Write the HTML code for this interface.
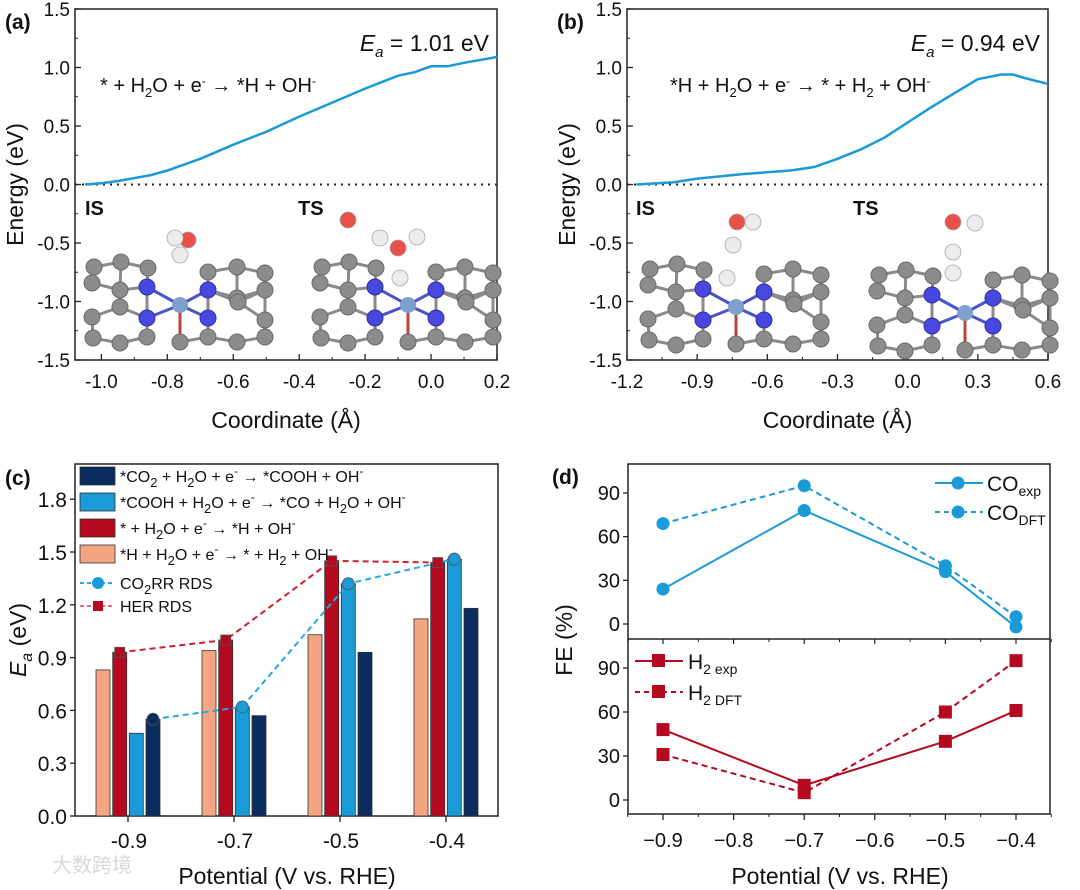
<!DOCTYPE html>
<html><head><meta charset="utf-8">
<style>
html,body{margin:0;padding:0;background:#fff;}
svg{display:block;font-family:"Liberation Sans",Arial,sans-serif;}
</style></head>
<body>
<svg id="fig" width="1080" height="890" viewBox="0 0 1080 890">
</svg>
<script>
// ---- data ----
const aX = [-1.05,-1.0,-0.95,-0.85,-0.8,-0.7,-0.6,-0.5,-0.4,-0.3,-0.2,-0.1,-0.05,0,0.05,0.1,0.2];
const aE = [0,0.01,0.03,0.08,0.12,0.22,0.34,0.45,0.58,0.70,0.82,0.93,0.96,1.01,1.01,1.04,1.09];
const bX = [-1.16,-1.0,-0.9,-0.7,-0.5,-0.4,-0.3,-0.2,-0.1,0,0.1,0.2,0.3,0.4,0.45,0.5,0.6];
const bE = [0,0.02,0.05,0.09,0.12,0.15,0.22,0.30,0.40,0.53,0.66,0.78,0.90,0.94,0.94,0.91,0.86];
const aXTicks = [-1.0,-0.8,-0.6,-0.4,-0.2,0.0,0.2];
const bXTicks = [-1.2,-0.9,-0.6,-0.3,0.0,0.3,0.6];
const eYTicks = [-1.5,-1.0,-0.5,0.0,0.5,1.0,1.5];

const cCats = ["-0.9","-0.7","-0.5","-0.4"];
const cPeach = [0.83,0.94,1.03,1.12];
const cRed = [0.93,1.00,1.45,1.44];
const cBlue = [0.47,0.62,1.32,1.46];
const cNavy = [0.55,0.57,0.93,1.18];
const cCO2RR = [0.55,0.62,1.32,1.46];
const cCO2RRSeries = [3,2,2,2];
const cHER = [0.93,1.00,1.45,1.44];
const cYTicks = [0.0,0.3,0.6,0.9,1.2,1.5,1.8];

const dX = [-0.9,-0.7,-0.5,-0.4];
const dCOexp = [24,78,36,-2];
const dCOdft = [69,95,40,5];
const dH2exp = [48,10,40,61];
const dH2dft = [31,5,60,95];
const dXTicks = [-0.9,-0.8,-0.7,-0.6,-0.5,-0.4];
const dYTicks = [0,30,60,90];

const NS="http://www.w3.org/2000/svg";
const svg=document.getElementById('fig');
function mk(tag,attrs,parent){const e=document.createElementNS(NS,tag);for(const k in attrs)e.setAttribute(k,attrs[k]);(parent||svg).appendChild(e);return e;}
function txt(x,y,s,size,anchor,parent,extra){const t=mk('text',Object.assign({x:x,y:y,'font-size':size,'text-anchor':anchor||'middle',fill:'#111'},extra||{}),parent);t.innerHTML=s;return t;}

function fmt1(v){return v.toFixed(1);}

// ---------- energy panels ----------
function energyPanel(id,L,R,T,B,xmin,xmax,xs,es,xticks,label,eaText,rxn,rxnX){
  const g=mk('g',{});
  
  
  const sx=v=>L+(v-xmin)/(xmax-xmin)*(R-L);
  const sy=v=>B-(v+1.5)/3*(B-T);
  mk('rect',{x:L,y:T,width:R-L,height:B-T,fill:'none',stroke:'#222','stroke-width':1.5},g);
  eYTicks.forEach(v=>{const y=sy(v);mk('line',{x1:L,x2:L+6,y1:y,y2:y,stroke:'#222','stroke-width':1.3},g);
    const t=txt(L-5,y+7,fmt1(v),19,'end',g);});
  for(let v=-1.25;v<1.5;v+=0.5){const y=sy(v);mk('line',{x1:L,x2:L+3,y1:y,y2:y,stroke:'#222','stroke-width':1},g);}
  xticks.forEach(v=>{const x=sx(v);mk('line',{x1:x,x2:x,y1:B,y2:B-6,stroke:'#222','stroke-width':1.3},g);
    const t=txt(x,B+28,fmt1(v),19,'middle',g);});
  const step=(xticks[1]-xticks[0])/2;
  for(let v=xticks[0]+step;v<xmax;v+=2*step){const x=sx(v);mk('line',{x1:x,x2:x,y1:B,y2:B-3,stroke:'#222','stroke-width':1},g);}
  const z=mk('line',{x1:L,x2:R,y1:sy(0),y2:sy(0),stroke:'#222','stroke-width':2,'stroke-dasharray':'2,5'},g);
  
  const d=xs.map((x,i)=>(i?'L':'M')+sx(x).toFixed(1)+','+sy(es[i]).toFixed(1)).join(' ');
  const p=mk('path',{d:d,fill:'none',stroke:'#1a9ad6','stroke-width':2.5},g);
  
  const pl=txt(L-70,T+20,label,21,'start',g,{'font-weight':'bold'});
  
  const ea=txt(R-8,T+42,'<tspan font-style="italic">E</tspan><tspan font-size="15" dy="6" font-style="italic">a</tspan><tspan dy="-6"> = '+eaText+' eV</tspan>',23,'end',g);
  
  const rx=txt(rxnX,T+83,rxn,20,'start',g);
  
  const xt=txt((L+R)/2,B+68,'Coordinate (Å)',23,'middle',g);
  
  const yt=txt(0,0,'Energy (eV)',23,'middle',g,{transform:'translate('+(L-52)+','+((T+B)/2)+') rotate(-90)'});
  
  return g;
}
const sub=(s)=>'<tspan font-size="13" dy="5">'+s+'</tspan><tspan dy="-5">';
const sup=(s)=>'<tspan font-size="12" dy="-7">'+s+'</tspan><tspan dy="7">';
const ga=energyPanel('a',75,497,9,360,-1.08,0.2,aX,aE,aXTicks,'(a)','1.01',
  '* + H'+sub('2')+'O + e'+sup('-')+' → *H + OH'+sup('-')+'</tspan></tspan></tspan></tspan>',100);
const gb=energyPanel('b',627,1048,9,360,-1.2,0.6,bX,bE,bXTicks,'(b)','0.94',
  '*H + H'+sub('2')+'O + e'+sup('-')+'  → * + H'+sub('2')+' + OH'+sup('-')+'</tspan></tspan></tspan></tspan></tspan>',670);

const greyAtoms=[[29,27],[56,22],[83,28],[143,32],[172,27],[200,33],[27,43],[55,50],[172,58],[200,50],[27,77],[55,67],[173,62],[200,80],[28,98],[55,103],[82,97],[115,102],[143,97],[172,102],[200,97]];
const blueAtoms=[[82,47],[143,50],[82,78],[143,78]];
function slab(ox,oy,name,extras){
  const g=mk('g',{});
  
  const all=greyAtoms.concat(blueAtoms);
  for(let i=0;i<all.length;i++)for(let j=i+1;j<all.length;j++){
    const dx=all[i][0]-all[j][0],dy=all[i][1]-all[j][1];
    if(Math.hypot(dx,dy)<33)mk('line',{x1:ox+all[i][0],y1:oy+all[i][1],x2:ox+all[j][0],y2:oy+all[j][1],stroke:'#8a8a8a','stroke-width':3},g);
  }
  blueAtoms.forEach(a=>mk('line',{x1:ox+115,y1:oy+65,x2:ox+a[0],y2:oy+a[1],stroke:'#4a55c8','stroke-width':3},g));
  mk('line',{x1:ox+115,y1:oy+65,x2:ox+115,y2:oy+102,stroke:'#c04040','stroke-width':3},g);
  greyAtoms.forEach(a=>mk('circle',{cx:ox+a[0],cy:oy+a[1],r:8,fill:'#8c8c8c',stroke:'#6a6a6a','stroke-width':1},g));
  blueAtoms.forEach(a=>mk('circle',{cx:ox+a[0],cy:oy+a[1],r:8,fill:'#4848e0',stroke:'#3030a0','stroke-width':1},g));
  mk('circle',{cx:ox+115,cy:oy+65,r:8,fill:'#7fa0cc'},g);
  extras.forEach(e=>mk('circle',{cx:e[0],cy:e[1],r:8,fill:e[2]==='r'?'#e8504a':'#ececec',stroke:'#aaa','stroke-width':0.8},g));
  return g;
}
slab(65,240,'is-structure-a',[[188,240,'r'],[175,238,'w'],[180,255,'w']]);
slab(293,240,'ts-structure-a',[[348,220,'r'],[380,238,'w'],[417,237,'w'],[398,248,'r'],[400,278,'w']]);
slab(621,242,'is-structure-b',[[737,222,'r'],[753,222,'w'],[733,245,'w'],[727,278,'w']]);
slab(850,248,'ts-structure-b',[[953,222,'r'],[975,223,'w'],[953,252,'w'],[953,273,'w']]);
[[85,215,'IS'],[298,215,'TS'],[636,215,'IS'],[853,215,'TS']].forEach(s=>{
  const t=txt(s[0],s[1],s[2],20,'start',null,{'font-weight':'bold'});
  });

// ---------- panel c ----------
(function(){
  const L=75,R=498,T=464,B=816,ymax=2.0;
  const g=mk('g',{});
  
  const sy=v=>B-v/ymax*(B-T);
  const cx=i=>128+i*106;
  mk('rect',{x:L,y:T,width:R-L,height:B-T,fill:'none',stroke:'#222','stroke-width':1.5},g);
  cYTicks.forEach(v=>{const y=sy(v);mk('line',{x1:L,x2:L-5,y1:y,y2:y,stroke:'#222','stroke-width':1.3},g);
    const t=txt(L-8,y+8,fmt1(v),21,'end',g);});
  cCats.forEach((c,i)=>{mk('line',{x1:cx(i),x2:cx(i),y1:B,y2:B+6,stroke:'#222','stroke-width':1.3},g);
    const t=txt(cx(i)+1,B+32,c,21,'middle',g);});
  const series=[[cPeach,'#f4a582','bar-h-desorption'],[cRed,'#b5091f','bar-h-adsorption'],[cBlue,'#1a9ad6','bar-cooh-to-co'],[cNavy,'#0a2c5e','bar-co2-to-cooh']];
  const offs=[-25,-8.3,8.3,25];
  series.forEach((s,si)=>s[0].forEach((v,i)=>{
    const r=mk('rect',{x:cx(i)+offs[si]-7,y:sy(v),width:14,height:B-sy(v),fill:s[1],stroke:'#333','stroke-width':0.8},g);
    }));
  const herPts=cHER.map((v,i)=>[cx(i)+offs[1],sy(v)]);
  const coPts=cCO2RR.map((v,i)=>[cx(i)+offs[cCO2RRSeries[i]],sy(v)]);
  const hl=mk('polyline',{points:herPts.map(p=>p.join(',')).join(' '),fill:'none',stroke:'#d0202a','stroke-width':2,'stroke-dasharray':'6,4'},g);
  
  const cl=mk('polyline',{points:coPts.map(p=>p.join(',')).join(' '),fill:'none',stroke:'#28a8e0','stroke-width':2,'stroke-dasharray':'6,4'},g);
  
  herPts.forEach(p=>{const m=mk('rect',{x:p[0]-5,y:p[1]-5,width:10,height:10,fill:'#b5091f',stroke:'#555','stroke-width':0.8},g);
    });
  coPts.forEach((p,i)=>{const m=mk('circle',{cx:p[0],cy:p[1],r:6,fill:i===0?'#0a2c5e':'#1a9ad6',stroke:'#555','stroke-width':0.8},g);
    });
  const leg=[['#0a2c5e','*CO'+sub('2')+' + H'+sub('2')+'O + e'+sup('-')+'  → *COOH + OH'+sup('-')+'</tspan></tspan></tspan></tspan>'],
    ['#1a9ad6','*COOH + H'+sub('2')+'O + e'+sup('-')+' → *CO + H'+sub('2')+'O + OH'+sup('-')+'</tspan></tspan></tspan></tspan>'],
    ['#b5091f','* + H'+sub('2')+'O + e'+sup('-')+' → *H + OH'+sup('-')+'</tspan></tspan></tspan>'],
    ['#f4a582','*H + H'+sub('2')+'O + e'+sup('-')+' → * + H'+sub('2')+' + OH'+sup('-')+'</tspan></tspan></tspan></tspan>']];
  leg.forEach((l,i)=>{const y=467+i*26;
    const b=mk('rect',{x:80,y:y,width:35,height:18,fill:l[0],stroke:'#333','stroke-width':0.8},g);
    
    const t=txt(120,y+15,l[1],16,'start',g);});
  mk('line',{x1:80,x2:115,y1:583,y2:583,stroke:'#28a8e0','stroke-width':2,'stroke-dasharray':'4,3'},g);
  mk('circle',{cx:98,cy:583,r:6,fill:'#1a9ad6'},g);
  let t=txt(120,589,'CO'+sub('2')+'RR RDS</tspan>',16,'start',g);
  mk('line',{x1:80,x2:115,y1:606,y2:606,stroke:'#e07080','stroke-width':2,'stroke-dasharray':'4,3'},g);
  mk('rect',{x:93,y:601,width:10,height:10,fill:'#b5091f'},g);
  t=txt(120,612,'HER RDS',16,'start',g);
  t=txt(5,485,'(c)',21,'start',g,{'font-weight':'bold'});
  t=txt(287,884,'Potential (V vs. RHE)',23,'middle',g);
  t=txt(0,0,'<tspan font-style="italic">E</tspan><tspan font-size="16" dy="6" font-style="italic">a</tspan><tspan dy="-6"> (eV)</tspan>',23,'middle',g,{transform:'translate(26,640) rotate(-90)'});
  
  t=txt(52,872,'大数跨境',20,'start',g,{fill:'#d8d8d8','font-family':'"Liberation Sans","Noto Sans CJK SC",sans-serif'});
  
})();

// ---------- panel d ----------
(function(){
  const L=628,R=1050,T1=464,M=639,B=814;
  const g=mk('g',{});
  
  const sx=v=>663+(v+0.9)/0.5*(1016-663);
  const syT=v=>624-v/90*(624-493);
  const syB=v=>800-v/90*(800-668);
  mk('rect',{x:L,y:T1,width:R-L,height:B-T1,fill:'none',stroke:'#222','stroke-width':1.5},g);
  mk('line',{x1:L,x2:R,y1:M,y2:M,stroke:'#222','stroke-width':1.5},g);
  dYTicks.forEach(v=>{[syT(v),syB(v)].forEach(y=>{mk('line',{x1:L,x2:L-5,y1:y,y2:y,stroke:'#222','stroke-width':1.3},g);
    const t=txt(L-8,y+7,String(v),20,'end',g);});});
  dXTicks.forEach(v=>{const x=sx(v);mk('line',{x1:x,x2:x,y1:B,y2:B+6,stroke:'#222','stroke-width':1.3},g);
    mk('line',{x1:x,x2:x,y1:M,y2:M+5,stroke:'#222','stroke-width':1.2},g);
    const t=txt(x,B+33,'−'+Math.abs(v).toFixed(1),20,'middle',g);});
  for(let v=-0.95;v<-0.35;v+=0.1){const x=sx(v);mk('line',{x1:x,x2:x,y1:B,y2:B+3,stroke:'#222','stroke-width':1},g);mk('line',{x1:x,x2:x,y1:M,y2:M+3,stroke:'#222','stroke-width':1},g);}
  function series(vals,sy,color,dash,marker,name){
    const pts=vals.map((v,i)=>[sx(dX[i]),sy(v)]);
    const l=mk('polyline',{points:pts.map(p=>p.join(',')).join(' '),fill:'none',stroke:color,'stroke-width':2,'stroke-dasharray':dash},g);
    
    pts.forEach(p=>{let m;
      if(marker==='c')m=mk('circle',{cx:p[0],cy:p[1],r:6.5,fill:color},g);
      else m=mk('rect',{x:p[0]-6.5,y:p[1]-6.5,width:13,height:13,fill:color},g);
      });
  }
  series(dCOdft,syT,'#1a9ad6','6,4','c','co-dft');
  series(dCOexp,syT,'#1a9ad6','','c','co-exp');
  series(dH2dft,syB,'#b5091f','6,4','s','h2-dft');
  series(dH2exp,syB,'#b5091f','','s','h2-exp');
  mk('line',{x1:935,x2:983,y1:483,y2:483,stroke:'#1a9ad6','stroke-width':2},g);mk('circle',{cx:958,cy:483,r:6.5,fill:'#1a9ad6'},g);
  let t=txt(987,491,'CO<tspan font-size="14" dy="5">exp</tspan>',21,'start',g);
  mk('line',{x1:935,x2:983,y1:512,y2:512,stroke:'#1a9ad6','stroke-width':2,'stroke-dasharray':'5,4'},g);mk('circle',{cx:958,cy:512,r:6.5,fill:'#1a9ad6'},g);
  t=txt(987,520,'CO<tspan font-size="14" dy="5">DFT</tspan>',21,'start',g);
  mk('line',{x1:635,x2:683,y1:661,y2:661,stroke:'#b5091f','stroke-width':2},g);mk('rect',{x:652,y:654,width:13,height:13,fill:'#b5091f'},g);
  t=txt(688,669,'H<tspan font-size="14" dy="5">2 exp</tspan>',21,'start',g);
  mk('line',{x1:635,x2:683,y1:692,y2:692,stroke:'#b5091f','stroke-width':2,'stroke-dasharray':'5,4'},g);mk('rect',{x:652,y:685,width:13,height:13,fill:'#b5091f'},g);
  t=txt(688,700,'H<tspan font-size="14" dy="5">2 DFT</tspan>',21,'start',g);
  t=txt(552,484,'(d)',21,'start',g,{'font-weight':'bold'});
  t=txt(840,884,'Potential (V vs. RHE)',23,'middle',g);
  t=txt(0,0,'FE (%)',23,'middle',g,{transform:'translate(572,640) rotate(-90)'});
})();
</script>
</body></html>
